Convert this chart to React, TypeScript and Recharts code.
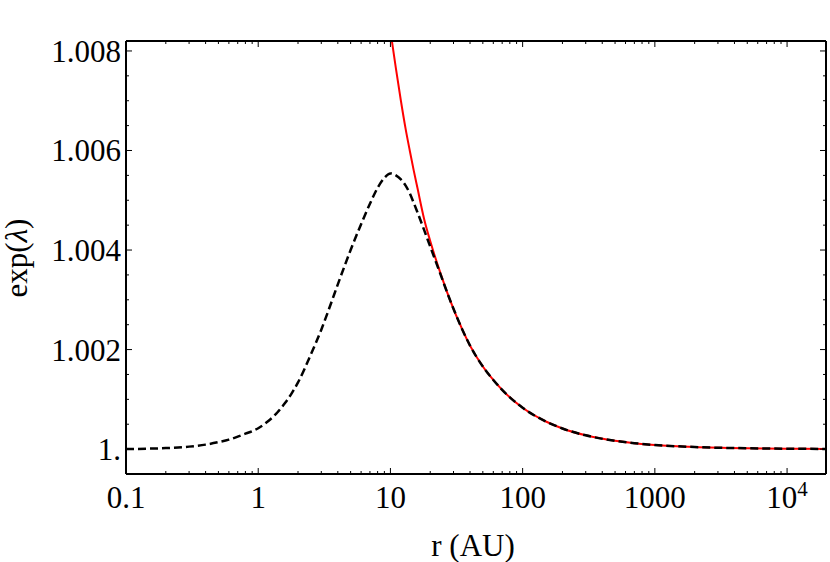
import { Line, LineChart, XAxis, YAxis } from "recharts";

const FONT = '"Liberation Serif", "Times New Roman", serif';

// r (AU)
const rValues = [
  0.1, 0.15, 0.2, 0.3, 0.4, 0.5, 0.6, 0.7, 0.8, 0.9, 1, 1.2, 1.4, 1.6, 1.8, 2,
  2.5, 3, 3.5, 4, 4.5, 5, 6, 7, 8, 9, 10, 11, 12, 13, 14, 15, 16, 18, 20, 24,
  28, 35, 40, 50, 60, 70, 100, 150, 200, 300, 500, 700, 1000, 2000, 5000,
  10000, 19700,
];

// dashed black curve
const blackValues = [
  1.0, 1.00001, 1.00002, 1.00005, 1.00009, 1.00014, 1.00019, 1.00025, 1.00031,
  1.00036, 1.00042, 1.00057, 1.00074, 1.00093, 1.00113, 1.00134, 1.0019,
  1.0024, 1.00288, 1.00331, 1.00368, 1.004, 1.00452, 1.00493, 1.00525,
  1.00545, 1.00554, 1.0055, 1.00542, 1.0053, 1.00514, 1.00495, 1.00476,
  1.0044, 1.00407, 1.0035, 1.00302, 1.0024, 1.00208, 1.00166, 1.00139,
  1.00119, 1.00083, 1.000555, 1.000415, 1.000277, 1.000166, 1.000119,
  1.000083, 1.000042, 1.000017, 1.000008, 1.000004,
];

// solid red curve (starts above the frame near r = 10)
const redValues = [
  null, null, null, null, null, null, null, null, null, null, null, null, null,
  null, null, null, null, null, null, null, null, null, null, null, null, null,
  1.0084, 1.00765, 1.007, 1.00645, 1.006, 1.0056, 1.00525, 1.00462, 1.00418,
  1.00352, 1.00302, 1.0024, 1.00208, 1.00166, 1.00139, 1.00119, 1.00083,
  1.000555, 1.000415, 1.000277, 1.000166, 1.000119, 1.000083, 1.000042,
  1.000017, 1.000008, 1.000004,
];

const xMajor = [0.1, 1, 10, 100, 1000, 10000];
const xLabels = ["0.1", "1", "10", "100", "1000", "10^4"];
const xMinor = [
  0.2, 0.3, 0.4, 0.5, 0.6, 0.7, 0.8, 0.9, 2, 3, 4, 5, 6, 7, 8, 9, 20, 30, 40,
  50, 60, 70, 80, 90, 200, 300, 400, 500, 600, 700, 800, 900, 2000, 3000, 4000,
  5000, 6000, 7000, 8000, 9000,
];

const yMajor = [1, 1.002, 1.004, 1.006, 1.008];
const yLabels = ["1.", "1.002", "1.004", "1.006", "1.008"];
const yMinor = [
  0.9995, 1.0005, 1.001, 1.0015, 1.0025, 1.003, 1.0035, 1.0045, 1.005, 1.0055,
  1.0065, 1.007, 1.0075,
];

const data = rValues.map((r, i) => ({
  r,
  black: blackValues[i],
  red: redValues[i],
}));

const majorIndex = (list: number[], v: number) =>
  list.findIndex((m) => Math.abs(m - v) < 1e-9 * Math.max(1, m));

const BottomTick = ({ x, y, payload }: any) => {
  const i = majorIndex(xMajor, payload.value);
  const len = i >= 0 ? 6 : 3;
  const label = i >= 0 ? xLabels[i] : null;
  return (
    <g>
      <line x1={x} x2={x} y1={y} y2={y - len} stroke="#000" strokeWidth={1} />
      {label &&
        (label === "10^4" ? (
          <text x={x} y={y + 34} textAnchor="middle" fontFamily={FONT} fontSize={31} fill="#000">
            10<tspan fontSize={21} dy={-12}>4</tspan>
          </text>
        ) : (
          <text x={x} y={y + 34} textAnchor="middle" fontFamily={FONT} fontSize={31} fill="#000">
            {label}
          </text>
        ))}
    </g>
  );
};

const TopTick = ({ x, y, payload }: any) => {
  const len = majorIndex(xMajor, payload.value) >= 0 ? 6 : 3;
  return <line x1={x} x2={x} y1={y} y2={y + len} stroke="#000" strokeWidth={1} />;
};

const LeftTick = ({ x, y, payload }: any) => {
  const i = majorIndex(yMajor, payload.value);
  const len = i >= 0 ? 6 : 3;
  return (
    <g>
      <line x1={x} x2={x + len} y1={y} y2={y} stroke="#000" strokeWidth={1} />
      {i >= 0 && (
        <text x={x - 5} y={y + 11} textAnchor="end" fontFamily={FONT} fontSize={31} fill="#000">
          {yLabels[i]}
        </text>
      )}
    </g>
  );
};

const RightTick = ({ x, y, payload }: any) => {
  const len = majorIndex(yMajor, payload.value) >= 0 ? 6 : 3;
  return <line x1={x} x2={x - len} y1={y} y2={y} stroke="#000" strokeWidth={1} />;
};

const XLabel = () => (
  <text x={473} y={556} textAnchor="middle" fontFamily={FONT} fontSize={31} fill="#000">
    r (AU)
  </text>
);

const YLabel = () => (
  <text
    x={0}
    y={0}
    transform="translate(27, 258) rotate(-90)"
    textAnchor="middle"
    fontFamily={FONT}
    fontSize={31}
    fill="#000"
  >
    exp(<tspan fontStyle="italic">λ</tspan>)
  </text>
);

const xTicks = [...xMajor, ...xMinor].sort((a, b) => a - b);
const yTicks = [...yMajor, ...yMinor].sort((a, b) => a - b);
const axisLine = { stroke: "#000", strokeWidth: 2 };

export default function App() {
  return (
    <div style={{ position: "absolute", left: 0, top: 0, background: "#fff" }}>
      <LineChart
        width={830}
        height={562}
        data={data}
        margin={{ top: 40, right: 3, bottom: 0, left: 0 }}
      >
        <XAxis
          dataKey="r"
          type="number"
          scale="log"
          domain={[0.1, 19700]}
          allowDataOverflow
          ticks={xTicks}
          interval={0}
          height={88}
          tickSize={0}
          tickMargin={0}
          tickLine={false}
          axisLine={axisLine}
          tick={<BottomTick />}
          label={<XLabel />}
        />
        <XAxis
          xAxisId="top"
          dataKey="r"
          type="number"
          scale="log"
          orientation="top"
          domain={[0.1, 19700]}
          allowDataOverflow
          ticks={xTicks}
          interval={0}
          height={1}
          tickSize={0}
          tickMargin={0}
          tickLine={false}
          axisLine={axisLine}
          tick={<TopTick />}
        />
        <YAxis
          type="number"
          domain={[0.9995, 1.0082]}
          allowDataOverflow
          ticks={yTicks}
          interval={0}
          width={126}
          tickSize={0}
          tickMargin={0}
          tickLine={false}
          axisLine={axisLine}
          tick={<LeftTick />}
          label={<YLabel />}
        />
        <YAxis
          yAxisId="right"
          orientation="right"
          type="number"
          domain={[0.9995, 1.0082]}
          allowDataOverflow
          ticks={yTicks}
          interval={0}
          width={1}
          tickSize={0}
          tickMargin={0}
          tickLine={false}
          axisLine={axisLine}
          tick={<RightTick />}
        />
        {/* invisible series so the top and right frame axes are in use */}
        <Line
          xAxisId="top"
          yAxisId="right"
          dataKey="black"
          stroke="none"
          dot={false}
          activeDot={false}
          isAnimationActive={false}
        />
        <Line
          dataKey="red"
          type="monotone"
          stroke="#ff0000"
          strokeWidth={2}
          dot={false}
          isAnimationActive={false}
        />
        <Line
          dataKey="black"
          type="monotone"
          stroke="#000"
          strokeWidth={2.5}
          strokeDasharray="8 4"
          dot={false}
          isAnimationActive={false}
        />
      </LineChart>
    </div>
  );
}
